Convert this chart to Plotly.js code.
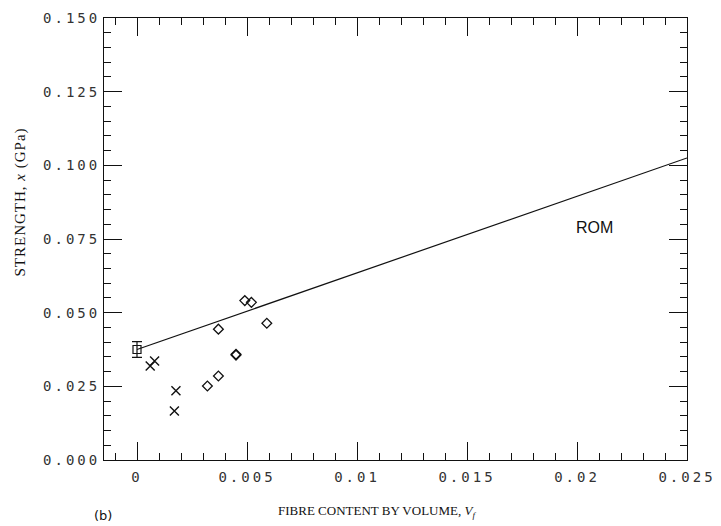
<!DOCTYPE html>
<html>
<head>
<meta charset="utf-8">
<script src="https://cdn.plot.ly/plotly-3.0.1.min.js"></script>
<style>
html,body{margin:0;padding:0;background:#fff;}
.xtick text, .ytick text { letter-spacing: 3px; }
g.annotation[data-index="1"] text { letter-spacing: 1px; }
</style>
</head>
<body>
<div id="chart" style="width:721px;height:526px;"></div>
<script>
// Matrix (no fibre) strength with error bar
const matrixX = [0];
const matrixY = [0.0375];
const matrixErr = [0.0027];

// Crosses
const crossX = [0.0006, 0.0008, 0.0017, 0.00177];
const crossY = [0.0319, 0.0336, 0.0166, 0.0235];

// Diamonds
const diamondX = [0.0032, 0.0037, 0.0037, 0.0045, 0.0045, 0.0049, 0.0052, 0.0059];
const diamondY = [0.0251, 0.0285, 0.0444, 0.0356, 0.0359, 0.0541, 0.0535, 0.0464];

// Rule of mixtures line
const romX = [0, 0.025];
const romY = [0.0375, 0.1025];

// Tick labels
const xTickVals = [0, 0.005, 0.01, 0.015, 0.02, 0.025];
const xTickText = ["0", "0.005", "0.01", "0.015", "0.02", "0.025"];
const yTickVals = [0, 0.025, 0.05, 0.075, 0.1, 0.125, 0.15];
const yTickText = ["0.000", "0.025", "0.050", "0.075", "0.100", "0.125", "0.150"];

const traces = [
  {x: romX, y: romY, mode: 'lines', line: {color: '#111', width: 1.2}, hoverinfo: 'skip'},
  {x: matrixX, y: matrixY, mode: 'markers',
   marker: {symbol: 'square-open', size: 8, color: '#111', line: {width: 1.2, color: '#111'}},
   error_y: {type: 'data', array: matrixErr, visible: true, color: '#111', thickness: 1.2, width: 5}},
  {x: crossX, y: crossY, mode: 'markers',
   marker: {symbol: 'x-thin-open', size: 9, color: '#111', line: {width: 1.4, color: '#111'}}},
  {x: diamondX, y: diamondY, mode: 'markers',
   marker: {symbol: 'diamond-open', size: 7.5, color: '#111', line: {width: 1.3, color: '#111'}}}
];

const tickFont = {family: 'DejaVu Sans Mono', size: 14, color: '#333'};

const layout = {
  width: 721, height: 526,
  margin: {l: 104, r: 34, t: 18, b: 66},
  paper_bgcolor: '#fff', plot_bgcolor: '#fff',
  showlegend: false,
  xaxis: {
    range: [-0.0015, 0.025], tickvals: xTickVals, ticktext: xTickText,
    showline: true, linecolor: '#111', linewidth: 1, mirror: 'ticks',
    ticks: 'inside', ticklen: 18, tickcolor: '#111', tickwidth: 1,
    showgrid: false, zeroline: false, tickfont: tickFont, ticklabelstandoff: 4,
    minor: {dtick: 0.001, tick0: 0, ticks: 'inside', ticklen: 7, tickcolor: '#111', tickwidth: 1, showgrid: false}
  },
  yaxis: {
    range: [0, 0.15], tickvals: yTickVals, ticktext: yTickText,
    showline: true, linecolor: '#111', linewidth: 1, mirror: 'ticks',
    ticks: 'inside', ticklen: 18, tickcolor: '#111', tickwidth: 1,
    showgrid: false, zeroline: false, tickfont: tickFont,
    minor: {dtick: 0.005, tick0: 0, ticks: 'inside', ticklen: 7, tickcolor: '#111', tickwidth: 1, showgrid: false}
  },
  annotations: [
    {text: 'FIBRE CONTENT BY VOLUME, <i>V</i><sub><i>f</i></sub>', xref: 'paper', yref: 'paper',
     x: (377 - 104) / 583, y: -(511 - 460) / 442, xanchor: 'center', yanchor: 'middle', showarrow: false,
     font: {family: 'Liberation Serif', size: 13, color: '#111'}},
    {text: 'STRENGTH, <i>x</i> (GPa)', xref: 'paper', yref: 'paper', textangle: -90,
     x: -(104 - 21) / 583, y: (460 - 202) / 442, xanchor: 'center', yanchor: 'middle', showarrow: false,
     font: {family: 'Liberation Serif', size: 15, color: '#111'}},
    {text: '(b)', xref: 'paper', yref: 'paper',
     x: -(104 - 103) / 583, y: -(515 - 460) / 442, xanchor: 'center', yanchor: 'middle', showarrow: false,
     font: {family: 'DejaVu Sans', size: 13, color: '#111'}},
    {text: 'ROM', xref: 'paper', yref: 'paper',
     x: (594 - 104) / 583, y: (460 - 227) / 442, xanchor: 'center', yanchor: 'middle', showarrow: false,
     font: {family: 'Liberation Sans', size: 16, color: '#111'}}
  ]
};

Plotly.newPlot('chart', traces, layout, {displayModeBar: false, staticPlot: true});
</script>
</body>
</html>
